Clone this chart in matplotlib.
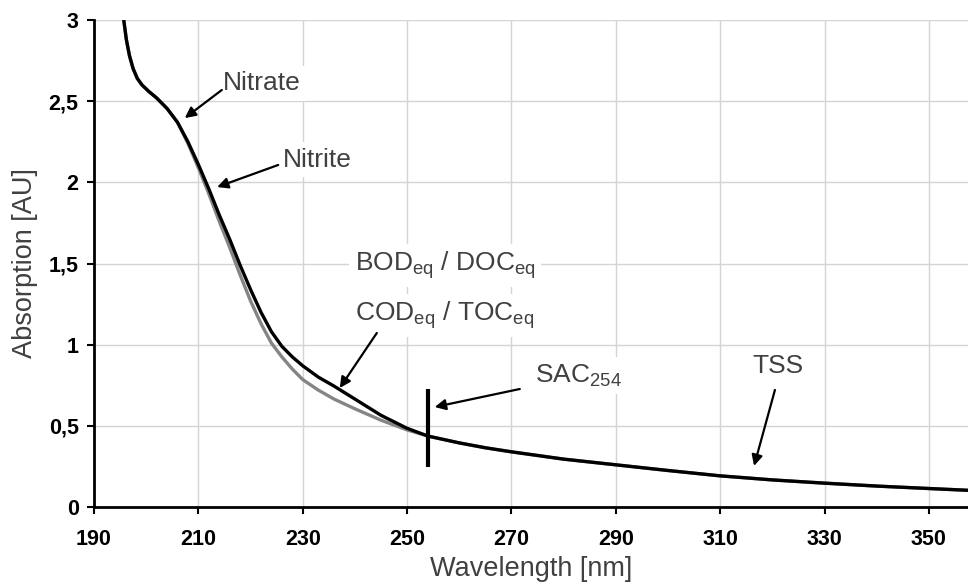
import matplotlib
matplotlib.use('Agg')
import matplotlib.pyplot as plt

plt.rcParams['font.family'] = ['Liberation Sans', 'DejaVu Sans']
plt.rcParams['mathtext.default'] = 'regular'

TEXT_COLOR = '#404040'
GRID_COLOR = '#d4d4d4'

# wavelength [nm]
wavelength = [195.7, 196.2, 196.8, 197.5, 198.3, 199.2, 200.5, 202, 204, 206, 208, 210, 212, 214,
              216, 218, 220, 222, 224, 226, 228, 230, 233, 236, 240, 245, 250, 254, 260, 265,
              270, 280, 290, 300, 310, 320, 330, 340, 350, 357.5]
# upper (black) spectrum
absorb_black = [3.0, 2.88, 2.78, 2.70, 2.64, 2.60, 2.56, 2.52, 2.455, 2.37, 2.25, 2.11, 1.96, 1.80,
                1.65, 1.49, 1.34, 1.20, 1.08, 0.99, 0.925, 0.87, 0.80, 0.745, 0.665, 0.565, 0.485, 0.437, 0.395, 0.365,
                0.34, 0.295, 0.26, 0.225, 0.192, 0.167, 0.147, 0.129, 0.114, 0.103]
# lower (grey) spectrum
absorb_grey = [3.0, 2.88, 2.78, 2.70, 2.64, 2.60, 2.56, 2.52, 2.455, 2.37, 2.24, 2.09, 1.93, 1.76,
               1.60, 1.43, 1.27, 1.13, 1.01, 0.925, 0.85, 0.785, 0.72, 0.665, 0.605, 0.535, 0.475, 0.437, 0.395, 0.365,
               0.34, 0.295, 0.26, 0.225, 0.192, 0.167, 0.147, 0.129, 0.114, 0.103]

x_ticks = [190, 210, 230, 250, 270, 290, 310, 330, 350]
y_ticks = [0, 0.5, 1, 1.5, 2, 2.5, 3]
y_tick_labels = ['0', '0,5', '1', '1,5', '2', '2,5', '3']

sac_wavelength = 254
sac_range = (0.247, 0.727)

# (label, text position, arrow start, arrow tip)
annotations = [
    ('Nitrate', (214.7, 2.61), (214.5, 2.569), (207.4, 2.396)),
    ('Nitrite', (226.2, 2.14), (225.3, 2.107), (213.6, 1.971)),
    ('COD$_{eq}$ / TOC$_{eq}$', (240.0, 1.18), (244.2, 1.072), (237.1, 0.733)),
    ('SAC$_{254}$', (274.5, 0.81), (271.6, 0.727), (255.3, 0.616)),
    ('TSS', (316.1, 0.87), (320.5, 0.721), (316.5, 0.253)),
]
bod_label = 'BOD$_{eq}$ / DOC$_{eq}$'
bod_pos = (240.0, 1.49)

fig = plt.figure(figsize=(9.68, 5.85), dpi=100)
ax = fig.add_axes([0.0971, 0.1333, 0.9029, 0.8325])

ax.plot(wavelength, absorb_grey, color='#858585', lw=2.4, zorder=3, solid_capstyle='butt')
ax.plot(wavelength, absorb_black, color='black', lw=2.4, zorder=4, solid_capstyle='butt')
ax.vlines(sac_wavelength, sac_range[0], sac_range[1], color='black', lw=3, zorder=5)

ax.set_xlim(190, 357.5)
ax.set_ylim(0, 3)
ax.set_xticks(x_ticks)
ax.set_yticks(y_ticks)
ax.set_yticklabels(y_tick_labels)
ax.tick_params(direction='out', length=5, width=1.5, labelsize=15.5, pad=6)
ax.tick_params(axis='x', pad=11)
for lab in ax.get_xticklabels() + ax.get_yticklabels():
    lab.set_fontweight('bold')
ax.grid(True, color=GRID_COLOR, lw=1, zorder=0)
ax.set_axisbelow(True)
for side in ('top', 'right'):
    ax.spines[side].set_visible(False)
for side in ('left', 'bottom'):
    ax.spines[side].set_linewidth(2)
    ax.spines[side].set_zorder(6)

ax.set_xlabel('Wavelength [nm]', fontsize=19.5, color=TEXT_COLOR, labelpad=4)
ax.set_ylabel('Absorption [AU]', fontsize=19.5, color=TEXT_COLOR, labelpad=8)

box = dict(facecolor='white', edgecolor='none', pad=4)
ax.text(bod_pos[0], bod_pos[1], bod_label, fontsize=19, color=TEXT_COLOR,
        ha='left', va='center', bbox=box, zorder=7)
for label, pos, start, tip in annotations:
    ax.text(pos[0], pos[1], label, fontsize=19, color=TEXT_COLOR,
            ha='left', va='center', bbox=box, zorder=7)
    ax.annotate('', xy=tip, xytext=start,
                arrowprops=dict(arrowstyle='-|>', color='black', lw=1.6,
                                mutation_scale=16, shrinkA=0, shrinkB=0),
                zorder=8)

fig.savefig('out.png', dpi=100)
